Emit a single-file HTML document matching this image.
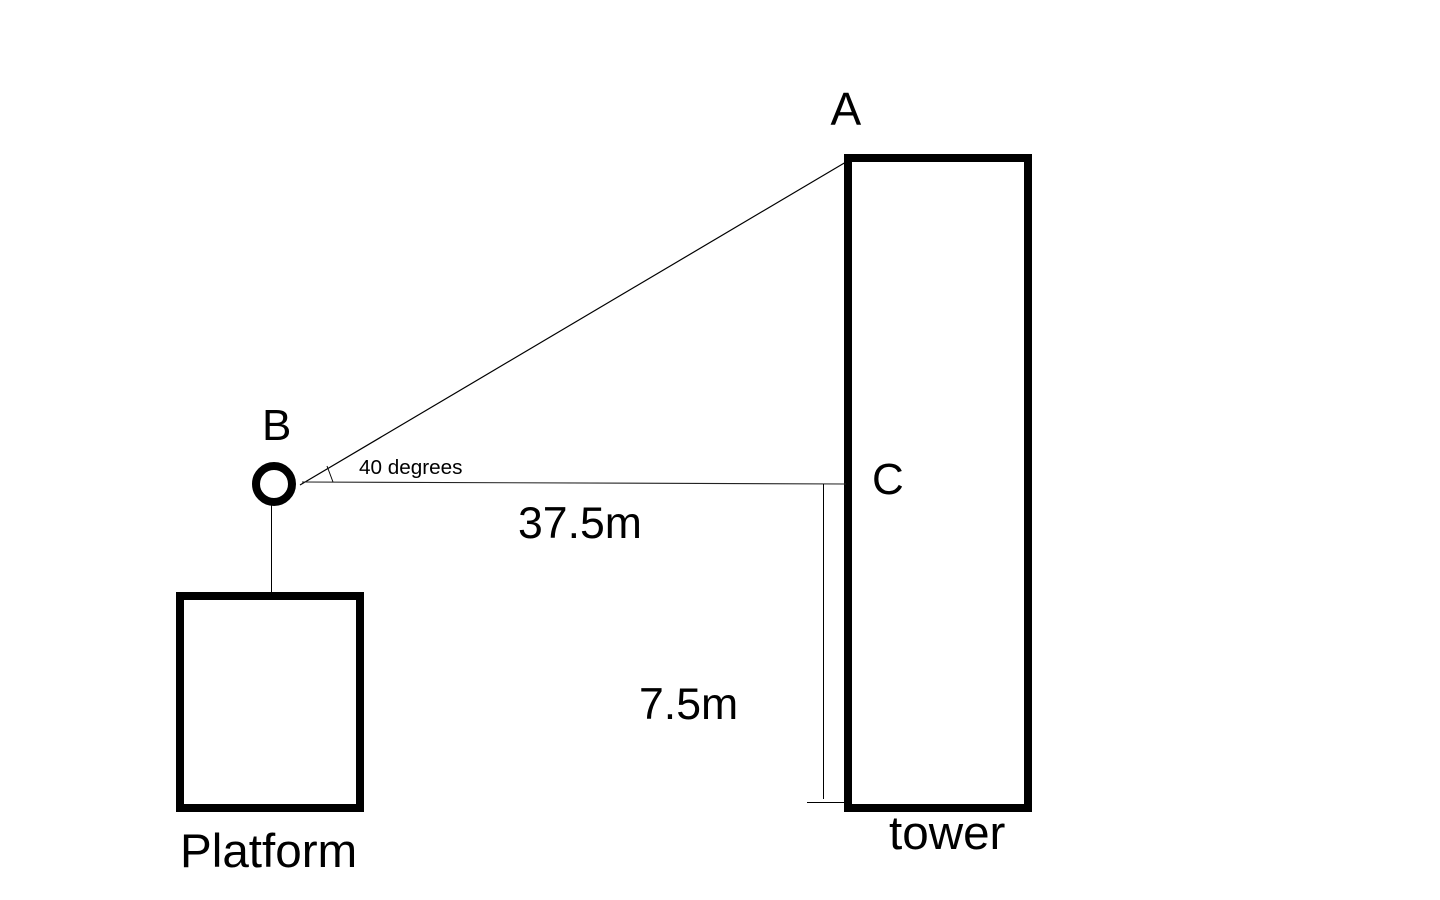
<!DOCTYPE html>
<html>
<head>
<meta charset="utf-8">
<style>
html,body{margin:0;padding:0;background:#fff;}
svg{display:block;}
text{font-family:"Liberation Sans",Arial,sans-serif;fill:#000;}
</style>
</head>
<body>
<svg width="1440" height="900" viewBox="0 0 1440 900" xmlns="http://www.w3.org/2000/svg">
<rect width="1440" height="900" fill="#fff"/>
<rect x="180" y="596" width="180" height="212" fill="#fff" stroke="#000" stroke-width="8"/>
<rect x="848" y="158" width="180" height="650" fill="#fff" stroke="#000" stroke-width="8"/>
<circle cx="274" cy="484" r="18" fill="#fff" stroke="#000" stroke-width="8"/>
<line x1="271.5" y1="505" x2="271.5" y2="592" stroke="#000" stroke-width="1"/>
<line x1="300" y1="485" x2="846" y2="162" stroke="#000" stroke-width="1.2"/>
<line x1="302" y1="482" x2="846" y2="484" stroke="#222" stroke-width="1.1"/>
<line x1="327" y1="466" x2="333" y2="482" stroke="#000" stroke-width="1"/>
<line x1="823.5" y1="484" x2="823.5" y2="799" stroke="#000" stroke-width="1"/>
<line x1="807" y1="802.5" x2="846" y2="802.5" stroke="#000" stroke-width="1"/>
<text x="830.5" y="125" font-size="46">A</text>
<text x="262" y="440" font-size="44">B</text>
<text x="872" y="494" font-size="44">C</text>
<text x="359" y="474" font-size="20.7">40 degrees</text>
<text x="518" y="538" font-size="44.6">37.5m</text>
<text x="639" y="719" font-size="44.6">7.5m</text>
<text x="889" y="849" font-size="47.6">tower</text>
<text x="180" y="867" font-size="47.6">Platform</text>
</svg>
</body>
</html>
